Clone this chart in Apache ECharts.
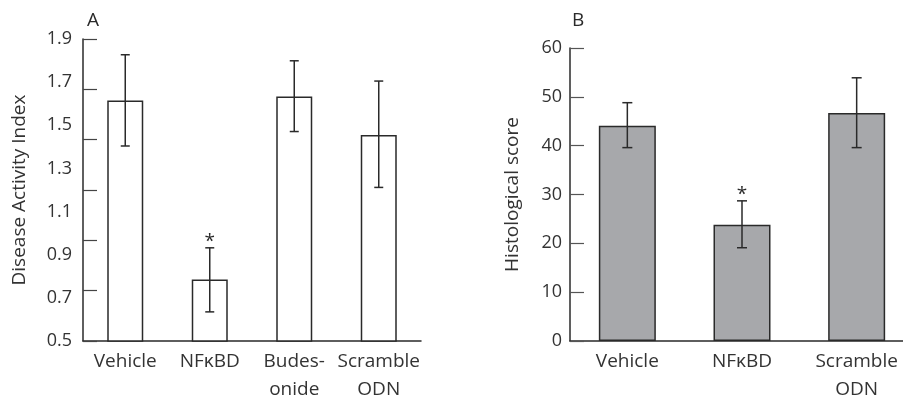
<!DOCTYPE html>
<html>
<head>
<meta charset="utf-8">
<script src="https://cdn.jsdelivr.net/npm/echarts@6/dist/echarts.min.js"></script>
<style>
  html, body { margin: 0; padding: 0; background: #fff; }
  #container { width: 903px; height: 395px; }
</style>
</head>
<body>
<div id="container"></div>
<script>
// panel A: disease activity index
var daiCats = ['Vehicle', 'NF\u03baBD', 'Budes-\nonide', 'Scramble\nODN'];
var daiMean = [1.615, 0.785, 1.633, 1.455];
var daiLow = [1.404, 0.635, 1.471, 1.212];
var daiHigh = [1.827, 0.932, 1.799, 1.705];
var daiSig = [false, true, false, false];
var daiLabels = [0.5, 0.7, 0.9, 1.1, 1.3, 1.5, 1.7, 1.9];
var daiTicks = [0.5, 0.7333, 0.9667, 1.2, 1.4333, 1.6667, 1.9];

// panel B: histological score
var histCats = ['Vehicle', 'NF\u03baBD', 'Scramble\nODN'];
var histMean = [44.1, 23.8, 46.7];
var histLow = [39.6, 19.1, 39.6];
var histHigh = [48.8, 28.7, 53.9];
var histSig = [false, true, false];

var dom = document.getElementById('container');
var myChart = echarts.init(dom);
var font = '"Open Sans", sans-serif';
var ink = '#2a2a2a';

function errData(low, high, sig) {
	return low.map(function (v, i) { return [i, v, high[i], sig[i] ? 1 : 0]; });
}

// error bar with caps, plus the asterisk
function errorBar(capW) {
	return function (params, api) {
		var lo = api.coord([api.value(0), api.value(1)]);
		var hi = api.coord([api.value(0), api.value(2)]);
		var x = lo[0];
		var style = { stroke: ink, lineWidth: 1.5 };
		var kids = [
			{ type: 'line', shape: { x1: x, y1: lo[1], x2: x, y2: hi[1] }, style: style },
			{ type: 'line', shape: { x1: x - capW, y1: hi[1], x2: x + capW, y2: hi[1] }, style: style },
			{ type: 'line', shape: { x1: x - capW, y1: lo[1], x2: x + capW, y2: lo[1] }, style: style }
		];
		if (api.value(3)) {
			kids.push({ type: 'text', style: { text: '*', x: x, y: hi[1] - 6, align: 'center', verticalAlign: 'middle', font: '19px ' + font, fill: ink } });
		}
		return { type: 'group', children: kids };
	};
}

var axisLine = { lineStyle: { color: ink, width: 1.5 } };
var tickStyle = { color: '#333', fontSize: 18, fontFamily: font };
var catStyle = { color: '#333', fontSize: 19, fontFamily: font };
var nameStyle = { color: '#333', fontSize: 19, fontFamily: font };

var option = {
	animation: false,
	title: [
		{ text: 'A', left: 82, top: 6, textStyle: { fontSize: 19, fontWeight: 'normal', fontFamily: font, color: ink } },
		{ text: 'B', left: 567, top: 6, textStyle: { fontSize: 19, fontWeight: 'normal', fontFamily: font, color: ink } }
	],
	grid: [
		{ left: 83, top: 39, width: 338, bottom: 54, containLabel: false, outerBoundsMode: 'none' },
		{ left: 570, top: 48, width: 344, bottom: 54, containLabel: false, outerBoundsMode: 'none' }
	],
	xAxis: [
		{
			type: 'category', gridIndex: 0, data: daiCats,
			axisLine: axisLine,
			axisTick: { inside: true, length: 14, lineStyle: { color: '#555', width: 1.2 } },
			axisLabel: Object.assign({ interval: 0, margin: 7, lineHeight: 28 }, catStyle)
		},
		{
			type: 'category', gridIndex: 1, data: histCats,
			axisLine: axisLine,
			axisTick: { inside: true, length: 14, lineStyle: { color: '#555', width: 1.2 } },
			axisLabel: Object.assign({ interval: 0, margin: 7, lineHeight: 28 }, catStyle)
		}
	],
	yAxis: [
		{
			type: 'value', gridIndex: 0, min: 0.5, max: 1.9,
			name: 'Disease Activity Index', nameLocation: 'middle', nameGap: 54,
			nameTextStyle: nameStyle,
			splitLine: { show: false },
			axisLine: { show: true, lineStyle: { color: ink, width: 1.5 } },
			axisTick: { show: true, inside: true, length: 14, customValues: daiTicks, lineStyle: { color: '#444', width: 1.2 } },
			axisLabel: Object.assign({ margin: 11, customValues: daiLabels, formatter: function (v) { return v.toFixed(1); } }, tickStyle)
		},
		{
			type: 'value', gridIndex: 1, min: 0, max: 60, interval: 10,
			name: 'Histological score', nameLocation: 'middle', nameGap: 48,
			nameTextStyle: nameStyle,
			splitLine: { show: false },
			axisLine: { show: true, lineStyle: { color: ink, width: 1.5 } },
			axisTick: { show: true, inside: true, length: 14, lineStyle: { color: '#555', width: 1.2 } },
			axisLabel: Object.assign({ margin: 8 }, tickStyle)
		}
	],
	series: [
		{
			type: 'bar', xAxisIndex: 0, yAxisIndex: 0, data: daiMean, barWidth: 36,
			itemStyle: { color: '#fff', borderColor: ink, borderWidth: 1.5 }
		},
		{
			type: 'custom', xAxisIndex: 0, yAxisIndex: 0, data: errData(daiLow, daiHigh, daiSig),
			renderItem: errorBar(4.5), z: 5
		},
		{
			type: 'bar', xAxisIndex: 1, yAxisIndex: 1, data: histMean, barWidth: 57,
			itemStyle: { color: '#a7a8ab', borderColor: ink, borderWidth: 1.5 }
		},
		{
			type: 'custom', xAxisIndex: 1, yAxisIndex: 1, data: errData(histLow, histHigh, histSig),
			renderItem: errorBar(5), z: 5
		}
	]
};

myChart.setOption(option);
</script>
</body>
</html>
